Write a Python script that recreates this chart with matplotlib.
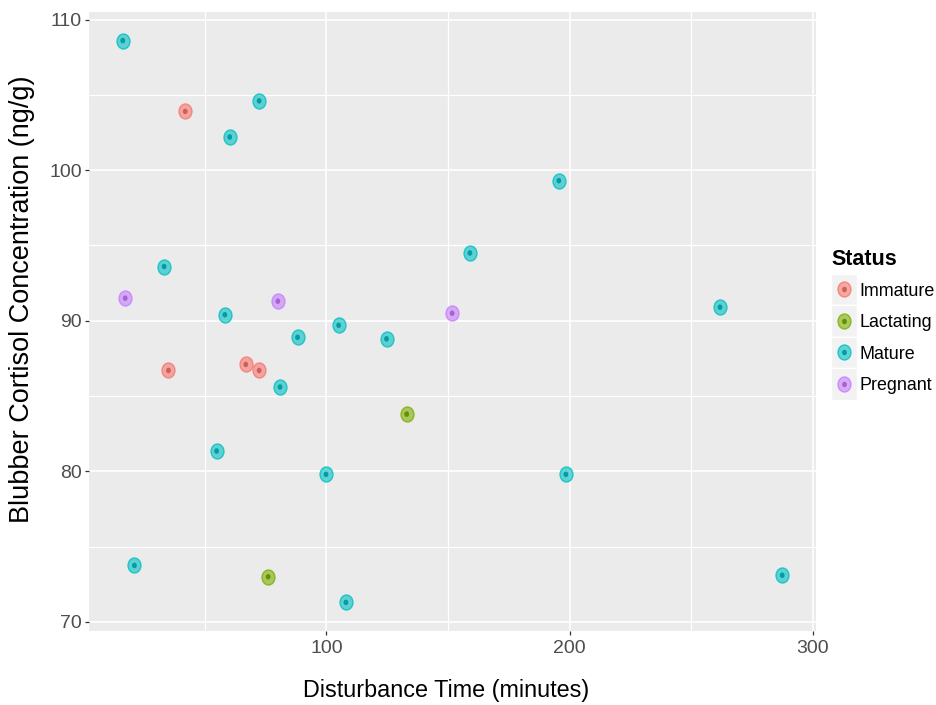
import numpy as np
import matplotlib
matplotlib.use("Agg")
from matplotlib import pyplot as plt
from matplotlib import colors as mcolors
from matplotlib.path import Path
from matplotlib.transforms import Affine2D
from matplotlib.patches import Rectangle
from matplotlib.lines import Line2D

# disturbance time (minutes) and blubber cortisol (ng/g) per status group
statuses = ['Immature', 'Lactating', 'Mature', 'Pregnant']
colours = ['#F8766D', '#7CAE00', '#00BFC4', '#C77CFF']

immatureTime = [41.9, 35.0, 66.8, 72.3]
immatureCort = [103.9, 86.7, 87.1, 86.7]

lactatingTime = [133.0, 76.0]
lactatingCort = [83.8, 73.0]

matureTime = [16.2, 72.3, 60.2, 33.2, 58.2, 88.1, 105.0, 124.7, 159.0,
              195.6, 261.9, 80.9, 54.8, 99.8, 198.5, 21.0, 108.0, 287.5]
matureCort = [108.6, 104.6, 102.2, 93.6, 90.4, 88.9, 89.7, 88.8, 94.5,
              99.3, 90.9, 85.6, 81.35, 79.8, 79.8, 73.75, 71.3, 73.1]

pregnantTime = [17.2, 80.0, 151.7]
pregnantCort = [91.5, 91.3, 90.5]

xMajor = [100, 200, 300]
xMinor = [50, 150, 250]
yMajor = [70, 80, 90, 100, 110]
yMinor = [75, 85, 95, 105]

FONT = ['Liberation Sans', 'DejaVu Sans']

W, H = 937, 705

def fx(px):
    return px / W

def fy(py):
    return 1 - py / H

def dark(c, f=0.82):
    r, g, b = mcolors.to_rgb(c)
    return (r * f, g * f, b * f)

def rgba(c, a):
    r, g, b = mcolors.to_rgb(c)
    return (r, g, b, a)

# slightly tall ellipse used as the point glyph
ellipse = Path.unit_circle().transformed(Affine2D().scale(0.86, 1.0))

OUTER = 10.8
INNER = 4.0

def main():
    plt.rcParams['font.family'] = FONT

    fig = plt.figure(figsize=(W / 100, H / 100), dpi=100)
    ax = fig.add_axes([fx(89), fy(631), fx(816) - fx(89), fy(12) - fy(631)])
    ax.set_facecolor('#EBEBEB')
    for s in ax.spines.values():
        s.set_visible(False)

    ax.set_xlim(2.3, 301.4)
    ax.set_ylim(69.4, 110.5)
    ax.set_xticks(xMajor)
    ax.set_xticks(xMinor, minor=True)
    ax.set_yticks(yMajor)
    ax.set_yticks(yMinor, minor=True)
    ax.grid(which='major', color='white', linewidth=1.2)
    ax.grid(which='minor', color='white', linewidth=0.9)
    ax.set_axisbelow(True)

    ax.tick_params(which='major', length=3.2, width=0.9, color='#333333',
                   labelsize=14, labelcolor='#4D4D4D')
    ax.tick_params(axis='x', which='major', pad=3.6)
    ax.tick_params(axis='y', which='major', pad=1.8)
    ax.tick_params(which='minor', length=0)

    groups = [(immatureTime, immatureCort), (lactatingTime, lactatingCort),
              (matureTime, matureCort), (pregnantTime, pregnantCort)]

    for (t, c), col in zip(groups, colours):
        ax.scatter(t, c, s=OUTER ** 2, marker=ellipse,
                   facecolors=[rgba(col, 0.6)], edgecolors=[rgba(col, 0.8)],
                   linewidths=1.0, zorder=3)
        ax.scatter(t, c, s=INNER ** 2, marker=ellipse,
                   facecolors=[dark(col)], edgecolors='none', zorder=4)

    fig.text(fx(446), fy(697), 'Disturbance Time (minutes)', ha='center',
             va='baseline', fontsize=16.8, color='black')
    fig.text(fx(22.5), fy(299), 'Blubber Cortisol Concentration (ng/g)',
             rotation=90, ha='center', va='center', fontsize=19.5,
             color='black')

    # legend drawn by hand to get the grey key boxes
    fig.text(fx(831), fy(265), 'Status', ha='left', va='baseline',
             fontsize=15.5, fontweight='bold')
    rowTops = [273.5, 305.0, 336.5, 368.0]
    rowH = 31.5
    for i, (name, col) in enumerate(zip(statuses, colours)):
        top = rowTops[i]
        fig.add_artist(Rectangle((fx(831), fy(top + rowH)), fx(857) - fx(831),
                                 fy(top) - fy(top + rowH), facecolor='#F2F2F2',
                                 edgecolor='white', linewidth=1.0,
                                 transform=fig.transFigure))
        cy = top + rowH / 2
        fig.add_artist(Line2D([fx(844)], [fy(cy)], marker=ellipse, markersize=OUTER,
                              markerfacecolor=rgba(col, 0.6),
                              markeredgecolor=rgba(col, 0.8), markeredgewidth=1.0,
                              linestyle='none', transform=fig.transFigure))
        fig.add_artist(Line2D([fx(844)], [fy(cy)], marker=ellipse, markersize=INNER,
                              markerfacecolor=dark(col), markeredgecolor='none',
                              linestyle='none', transform=fig.transFigure))
        fig.text(fx(859.5), fy(cy + 6.4), name, ha='left', va='baseline',
                 fontsize=12.9, color='black')

    fig.savefig('out.png', dpi=100)

if __name__ == "__main__":
    main()
